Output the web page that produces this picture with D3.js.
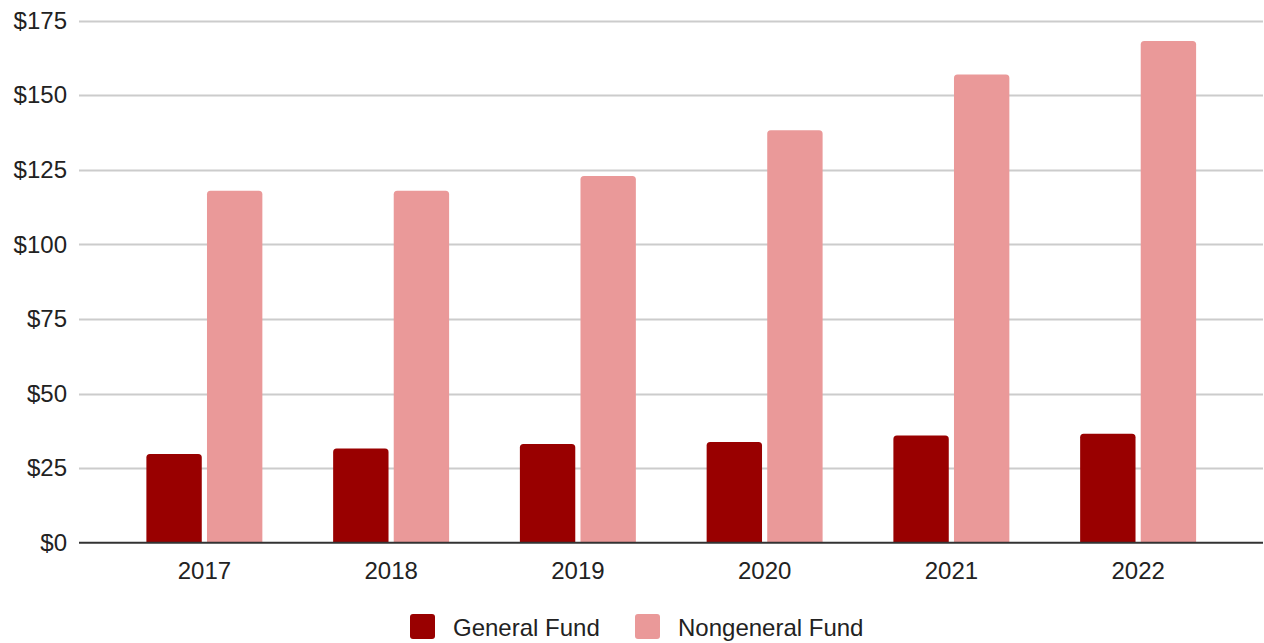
<!DOCTYPE html>
<html>
<head>
<meta charset="utf-8">
<script src="https://cdn.jsdelivr.net/npm/d3@7"></script>
<style>
  html, body { margin: 0; padding: 0; background: #fff; }
  svg { display: block; font-family: "Liberation Sans", Arial, sans-serif; }
</style>
</head>
<body>
<svg id="chart" width="1264" height="643"></svg>
<script>
const years = ["2017", "2018", "2019", "2020", "2021", "2022"];
const seriesNames = ["General Fund", "Nongeneral Fund"];
const generalFund = [29.7, 31.6, 33.1, 33.8, 35.9, 36.5];
const nongeneralFund = [118.0, 118.0, 122.9, 138.3, 157.0, 168.2];
const yTicks = [0, 25, 50, 75, 100, 125, 150, 175];
const colors = ["#990000", "#ea9999"];

const svg = d3.select("#chart");
const gridLeft = 79, gridRight = 1263;
const y = d3.scaleLinear().domain([0, 175]).range([542.7, 20.7]);

const x0 = d3.scaleBand().domain(years).range([111, 1231.5])
  .paddingInner(0.379).paddingOuter(0.1895);
const x1 = d3.scaleBand().domain(seriesNames).range([0, x0.bandwidth()])
  .paddingInner(0.086).paddingOuter(0);
const color = d3.scaleOrdinal().domain(seriesNames).range(colors);

// gridlines
svg.append("g").selectAll("line").data(yTicks.filter(d => d !== 0)).join("line")
  .attr("x1", gridLeft).attr("x2", gridRight)
  .attr("y1", d => Math.round(y(d)) + 0.5).attr("y2", d => Math.round(y(d)) + 0.5)
  .attr("stroke", "#cccccc").attr("stroke-width", 2);

// y-axis labels
const yAxis = d3.axisLeft(y).tickValues(yTicks).tickSize(0).tickPadding(0)
  .tickFormat(d => "$" + d);
const gy = svg.append("g").attr("transform", "translate(67,0)").call(yAxis);
gy.select(".domain").remove();
gy.selectAll("text").attr("font-size", 24).attr("fill", "#222")
  .attr("font-family", "'Liberation Sans', Arial, sans-serif");

// bars
const rows = years.map((yr, i) => ({ year: yr, values: [
  { key: seriesNames[0], value: generalFund[i] },
  { key: seriesNames[1], value: nongeneralFund[i] } ] }));

function topRounded(x, yTop, w, yBot, r) {
  r = Math.min(r, w / 2, (yBot - yTop));
  return `M${x},${yBot}V${yTop + r}Q${x},${yTop} ${x + r},${yTop}H${x + w - r}Q${x + w},${yTop} ${x + w},${yTop + r}V${yBot}Z`;
}

svg.append("g").selectAll("g").data(rows).join("g")
  .attr("transform", d => `translate(${x0(d.year)},0)`)
  .selectAll("path").data(d => d.values).join("path")
  .attr("d", d => topRounded(x1(d.key), y(d.value), x1.bandwidth(), y(0), 3.5))
  .attr("fill", d => color(d.key));

// baseline
svg.append("line").attr("x1", gridLeft).attr("x2", gridRight)
  .attr("y1", y(0)).attr("y2", y(0)).attr("stroke", "#333").attr("stroke-width", 2);

// x-axis labels
const xAxis = d3.axisBottom(x0).tickSize(0).tickPadding(0);
const gx = svg.append("g").attr("transform", "translate(0,562)").call(xAxis);
gx.select(".domain").remove();
gx.selectAll("text").attr("font-size", 24).attr("fill", "#222").attr("dy", "0.71em")
  .attr("font-family", "'Liberation Sans', Arial, sans-serif");

// legend
const legendX = [410, 635];
const lg = svg.append("g").selectAll("g").data(seriesNames).join("g")
  .attr("transform", (d, i) => `translate(${legendX[i]},614)`);
lg.append("rect").attr("width", 25).attr("height", 25).attr("rx", 3)
  .attr("fill", d => color(d));
lg.append("text").attr("x", 43).attr("y", 22).attr("font-size", 24).attr("fill", "#222")
  .text(d => d);
</script>
</body>
</html>
